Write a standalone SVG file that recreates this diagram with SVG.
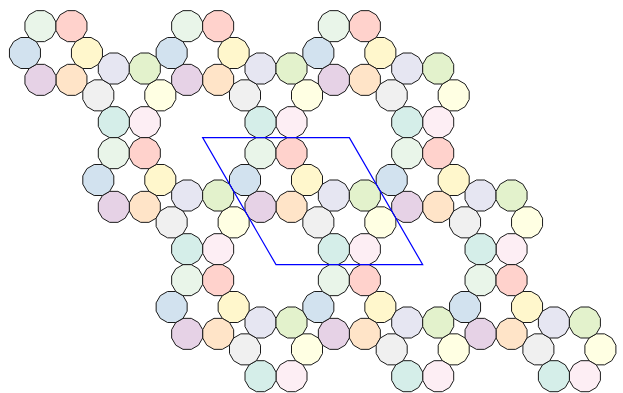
<svg xmlns="http://www.w3.org/2000/svg" xmlns:xlink="http://www.w3.org/1999/xlink" width="623" height="393" viewBox="0 0 623 393">
<style>
.d{stroke:#1a1a1a;stroke-width:1;stroke-linejoin:round}
.ye{fill:#fff7cc}.pe{fill:#ffe4c8}.pu{fill:#e6d2e6}.bl{fill:#d2e2ef}.gr{fill:#e9f5e9}.pk{fill:#ffd2cc}
.ly{fill:#ffffe3}.lp{fill:#fdeef4}.te{fill:#d5eee9}.gy{fill:#f0f0f0}.la{fill:#e6e6f2}.li{fill:#e3f2cc}
.cell{fill:none;stroke:#0000ff;stroke-width:1.2}
</style>
<defs>
<polygon id="dod" points="15.5,4.15 11.35,11.35 4.15,15.5 -4.15,15.5 -11.35,11.35 -15.5,4.15 -15.5,-4.15 -11.35,-11.35 -4.15,-15.5 4.15,-15.5 11.35,-11.35 15.5,-4.15"/>
</defs>
<g id="tiles">
<g transform="translate(55.95,53)">
<g id="A-1-1-0"><use xlink:href="#dod" class="d ye" x="31" y="0"/></g>
<g id="A-1-1-1"><use xlink:href="#dod" class="d pe" x="15.5" y="26.85"/></g>
<g id="A-1-1-2"><use xlink:href="#dod" class="d pu" x="-15.5" y="26.85"/></g>
<g id="A-1-1-3"><use xlink:href="#dod" class="d bl" x="-31" y="0"/></g>
<g id="A-1-1-4"><use xlink:href="#dod" class="d gr" x="-15.5" y="-26.85"/></g>
<g id="A-1-1-5"><use xlink:href="#dod" class="d pk" x="15.5" y="-26.85"/></g>
</g>
<g transform="translate(202.65,53)">
<g id="A0-1-0"><use xlink:href="#dod" class="d ye" x="31" y="0"/></g>
<g id="A0-1-1"><use xlink:href="#dod" class="d pe" x="15.5" y="26.85"/></g>
<g id="A0-1-2"><use xlink:href="#dod" class="d pu" x="-15.5" y="26.85"/></g>
<g id="A0-1-3"><use xlink:href="#dod" class="d bl" x="-31" y="0"/></g>
<g id="A0-1-4"><use xlink:href="#dod" class="d gr" x="-15.5" y="-26.85"/></g>
<g id="A0-1-5"><use xlink:href="#dod" class="d pk" x="15.5" y="-26.85"/></g>
</g>
<g transform="translate(349.35,53)">
<g id="A1-1-0"><use xlink:href="#dod" class="d ye" x="31" y="0"/></g>
<g id="A1-1-1"><use xlink:href="#dod" class="d pe" x="15.5" y="26.85"/></g>
<g id="A1-1-2"><use xlink:href="#dod" class="d pu" x="-15.5" y="26.85"/></g>
<g id="A1-1-3"><use xlink:href="#dod" class="d bl" x="-31" y="0"/></g>
<g id="A1-1-4"><use xlink:href="#dod" class="d gr" x="-15.5" y="-26.85"/></g>
<g id="A1-1-5"><use xlink:href="#dod" class="d pk" x="15.5" y="-26.85"/></g>
</g>
<g transform="translate(129.3,95.35)">
<g id="B-1-1-0"><use xlink:href="#dod" class="d ly" x="31" y="0"/></g>
<g id="B-1-1-1"><use xlink:href="#dod" class="d lp" x="15.5" y="26.85"/></g>
<g id="B-1-1-2"><use xlink:href="#dod" class="d te" x="-15.5" y="26.85"/></g>
<g id="B-1-1-3"><use xlink:href="#dod" class="d gy" x="-31" y="0"/></g>
<g id="B-1-1-4"><use xlink:href="#dod" class="d la" x="-15.5" y="-26.85"/></g>
<g id="B-1-1-5"><use xlink:href="#dod" class="d li" x="15.5" y="-26.85"/></g>
</g>
<g transform="translate(276,95.35)">
<g id="B0-1-0"><use xlink:href="#dod" class="d ly" x="31" y="0"/></g>
<g id="B0-1-1"><use xlink:href="#dod" class="d lp" x="15.5" y="26.85"/></g>
<g id="B0-1-2"><use xlink:href="#dod" class="d te" x="-15.5" y="26.85"/></g>
<g id="B0-1-3"><use xlink:href="#dod" class="d gy" x="-31" y="0"/></g>
<g id="B0-1-4"><use xlink:href="#dod" class="d la" x="-15.5" y="-26.85"/></g>
<g id="B0-1-5"><use xlink:href="#dod" class="d li" x="15.5" y="-26.85"/></g>
</g>
<g transform="translate(422.7,95.35)">
<g id="B1-1-0"><use xlink:href="#dod" class="d ly" x="31" y="0"/></g>
<g id="B1-1-1"><use xlink:href="#dod" class="d lp" x="15.5" y="26.85"/></g>
<g id="B1-1-2"><use xlink:href="#dod" class="d te" x="-15.5" y="26.85"/></g>
<g id="B1-1-3"><use xlink:href="#dod" class="d gy" x="-31" y="0"/></g>
<g id="B1-1-4"><use xlink:href="#dod" class="d la" x="-15.5" y="-26.85"/></g>
<g id="B1-1-5"><use xlink:href="#dod" class="d li" x="15.5" y="-26.85"/></g>
</g>
<g transform="translate(129.3,180)">
<g id="A-10-0"><use xlink:href="#dod" class="d ye" x="31" y="0"/></g>
<g id="A-10-1"><use xlink:href="#dod" class="d pe" x="15.5" y="26.85"/></g>
<g id="A-10-2"><use xlink:href="#dod" class="d pu" x="-15.5" y="26.85"/></g>
<g id="A-10-3"><use xlink:href="#dod" class="d bl" x="-31" y="0"/></g>
<g id="A-10-4"><use xlink:href="#dod" class="d gr" x="-15.5" y="-26.85"/></g>
<g id="A-10-5"><use xlink:href="#dod" class="d pk" x="15.5" y="-26.85"/></g>
</g>
<g transform="translate(276,180)">
<g id="A00-0"><use xlink:href="#dod" class="d ye" x="31" y="0"/></g>
<g id="A00-1"><use xlink:href="#dod" class="d pe" x="15.5" y="26.85"/></g>
<g id="A00-2"><use xlink:href="#dod" class="d pu" x="-15.5" y="26.85"/></g>
<g id="A00-3"><use xlink:href="#dod" class="d bl" x="-31" y="0"/></g>
<g id="A00-4"><use xlink:href="#dod" class="d gr" x="-15.5" y="-26.85"/></g>
<g id="A00-5"><use xlink:href="#dod" class="d pk" x="15.5" y="-26.85"/></g>
</g>
<g transform="translate(422.7,180)">
<g id="A10-0"><use xlink:href="#dod" class="d ye" x="31" y="0"/></g>
<g id="A10-1"><use xlink:href="#dod" class="d pe" x="15.5" y="26.85"/></g>
<g id="A10-2"><use xlink:href="#dod" class="d pu" x="-15.5" y="26.85"/></g>
<g id="A10-3"><use xlink:href="#dod" class="d bl" x="-31" y="0"/></g>
<g id="A10-4"><use xlink:href="#dod" class="d gr" x="-15.5" y="-26.85"/></g>
<g id="A10-5"><use xlink:href="#dod" class="d pk" x="15.5" y="-26.85"/></g>
</g>
<g transform="translate(202.65,222.35)">
<g id="B-10-0"><use xlink:href="#dod" class="d ly" x="31" y="0"/></g>
<g id="B-10-1"><use xlink:href="#dod" class="d lp" x="15.5" y="26.85"/></g>
<g id="B-10-2"><use xlink:href="#dod" class="d te" x="-15.5" y="26.85"/></g>
<g id="B-10-3"><use xlink:href="#dod" class="d gy" x="-31" y="0"/></g>
<g id="B-10-4"><use xlink:href="#dod" class="d la" x="-15.5" y="-26.85"/></g>
<g id="B-10-5"><use xlink:href="#dod" class="d li" x="15.5" y="-26.85"/></g>
</g>
<g transform="translate(349.35,222.35)">
<g id="B00-0"><use xlink:href="#dod" class="d ly" x="31" y="0"/></g>
<g id="B00-1"><use xlink:href="#dod" class="d lp" x="15.5" y="26.85"/></g>
<g id="B00-2"><use xlink:href="#dod" class="d te" x="-15.5" y="26.85"/></g>
<g id="B00-3"><use xlink:href="#dod" class="d gy" x="-31" y="0"/></g>
<g id="B00-4"><use xlink:href="#dod" class="d la" x="-15.5" y="-26.85"/></g>
<g id="B00-5"><use xlink:href="#dod" class="d li" x="15.5" y="-26.85"/></g>
</g>
<g transform="translate(496.05,222.35)">
<g id="B10-0"><use xlink:href="#dod" class="d ly" x="31" y="0"/></g>
<g id="B10-1"><use xlink:href="#dod" class="d lp" x="15.5" y="26.85"/></g>
<g id="B10-2"><use xlink:href="#dod" class="d te" x="-15.5" y="26.85"/></g>
<g id="B10-3"><use xlink:href="#dod" class="d gy" x="-31" y="0"/></g>
<g id="B10-4"><use xlink:href="#dod" class="d la" x="-15.5" y="-26.85"/></g>
<g id="B10-5"><use xlink:href="#dod" class="d li" x="15.5" y="-26.85"/></g>
</g>
<g transform="translate(202.65,307)">
<g id="A-11-0"><use xlink:href="#dod" class="d ye" x="31" y="0"/></g>
<g id="A-11-1"><use xlink:href="#dod" class="d pe" x="15.5" y="26.85"/></g>
<g id="A-11-2"><use xlink:href="#dod" class="d pu" x="-15.5" y="26.85"/></g>
<g id="A-11-3"><use xlink:href="#dod" class="d bl" x="-31" y="0"/></g>
<g id="A-11-4"><use xlink:href="#dod" class="d gr" x="-15.5" y="-26.85"/></g>
<g id="A-11-5"><use xlink:href="#dod" class="d pk" x="15.5" y="-26.85"/></g>
</g>
<g transform="translate(349.35,307)">
<g id="A01-0"><use xlink:href="#dod" class="d ye" x="31" y="0"/></g>
<g id="A01-1"><use xlink:href="#dod" class="d pe" x="15.5" y="26.85"/></g>
<g id="A01-2"><use xlink:href="#dod" class="d pu" x="-15.5" y="26.85"/></g>
<g id="A01-3"><use xlink:href="#dod" class="d bl" x="-31" y="0"/></g>
<g id="A01-4"><use xlink:href="#dod" class="d gr" x="-15.5" y="-26.85"/></g>
<g id="A01-5"><use xlink:href="#dod" class="d pk" x="15.5" y="-26.85"/></g>
</g>
<g transform="translate(496.05,307)">
<g id="A11-0"><use xlink:href="#dod" class="d ye" x="31" y="0"/></g>
<g id="A11-1"><use xlink:href="#dod" class="d pe" x="15.5" y="26.85"/></g>
<g id="A11-2"><use xlink:href="#dod" class="d pu" x="-15.5" y="26.85"/></g>
<g id="A11-3"><use xlink:href="#dod" class="d bl" x="-31" y="0"/></g>
<g id="A11-4"><use xlink:href="#dod" class="d gr" x="-15.5" y="-26.85"/></g>
<g id="A11-5"><use xlink:href="#dod" class="d pk" x="15.5" y="-26.85"/></g>
</g>
<g transform="translate(276,349.35)">
<g id="B-11-0"><use xlink:href="#dod" class="d ly" x="31" y="0"/></g>
<g id="B-11-1"><use xlink:href="#dod" class="d lp" x="15.5" y="26.85"/></g>
<g id="B-11-2"><use xlink:href="#dod" class="d te" x="-15.5" y="26.85"/></g>
<g id="B-11-3"><use xlink:href="#dod" class="d gy" x="-31" y="0"/></g>
<g id="B-11-4"><use xlink:href="#dod" class="d la" x="-15.5" y="-26.85"/></g>
<g id="B-11-5"><use xlink:href="#dod" class="d li" x="15.5" y="-26.85"/></g>
</g>
<g transform="translate(422.7,349.35)">
<g id="B01-0"><use xlink:href="#dod" class="d ly" x="31" y="0"/></g>
<g id="B01-1"><use xlink:href="#dod" class="d lp" x="15.5" y="26.85"/></g>
<g id="B01-2"><use xlink:href="#dod" class="d te" x="-15.5" y="26.85"/></g>
<g id="B01-3"><use xlink:href="#dod" class="d gy" x="-31" y="0"/></g>
<g id="B01-4"><use xlink:href="#dod" class="d la" x="-15.5" y="-26.85"/></g>
<g id="B01-5"><use xlink:href="#dod" class="d li" x="15.5" y="-26.85"/></g>
</g>
<g transform="translate(569.4,349.35)">
<g id="B11-0"><use xlink:href="#dod" class="d ly" x="31" y="0"/></g>
<g id="B11-1"><use xlink:href="#dod" class="d lp" x="15.5" y="26.85"/></g>
<g id="B11-2"><use xlink:href="#dod" class="d te" x="-15.5" y="26.85"/></g>
<g id="B11-3"><use xlink:href="#dod" class="d gy" x="-31" y="0"/></g>
<g id="B11-4"><use xlink:href="#dod" class="d la" x="-15.5" y="-26.85"/></g>
<g id="B11-5"><use xlink:href="#dod" class="d li" x="15.5" y="-26.85"/></g>
</g>
</g>
<g id="unit-cell">
<path class="cell" d="M202.65,137.67 H349.35 L422.7,264.67 H276 Z"/>
</g>
</svg>
